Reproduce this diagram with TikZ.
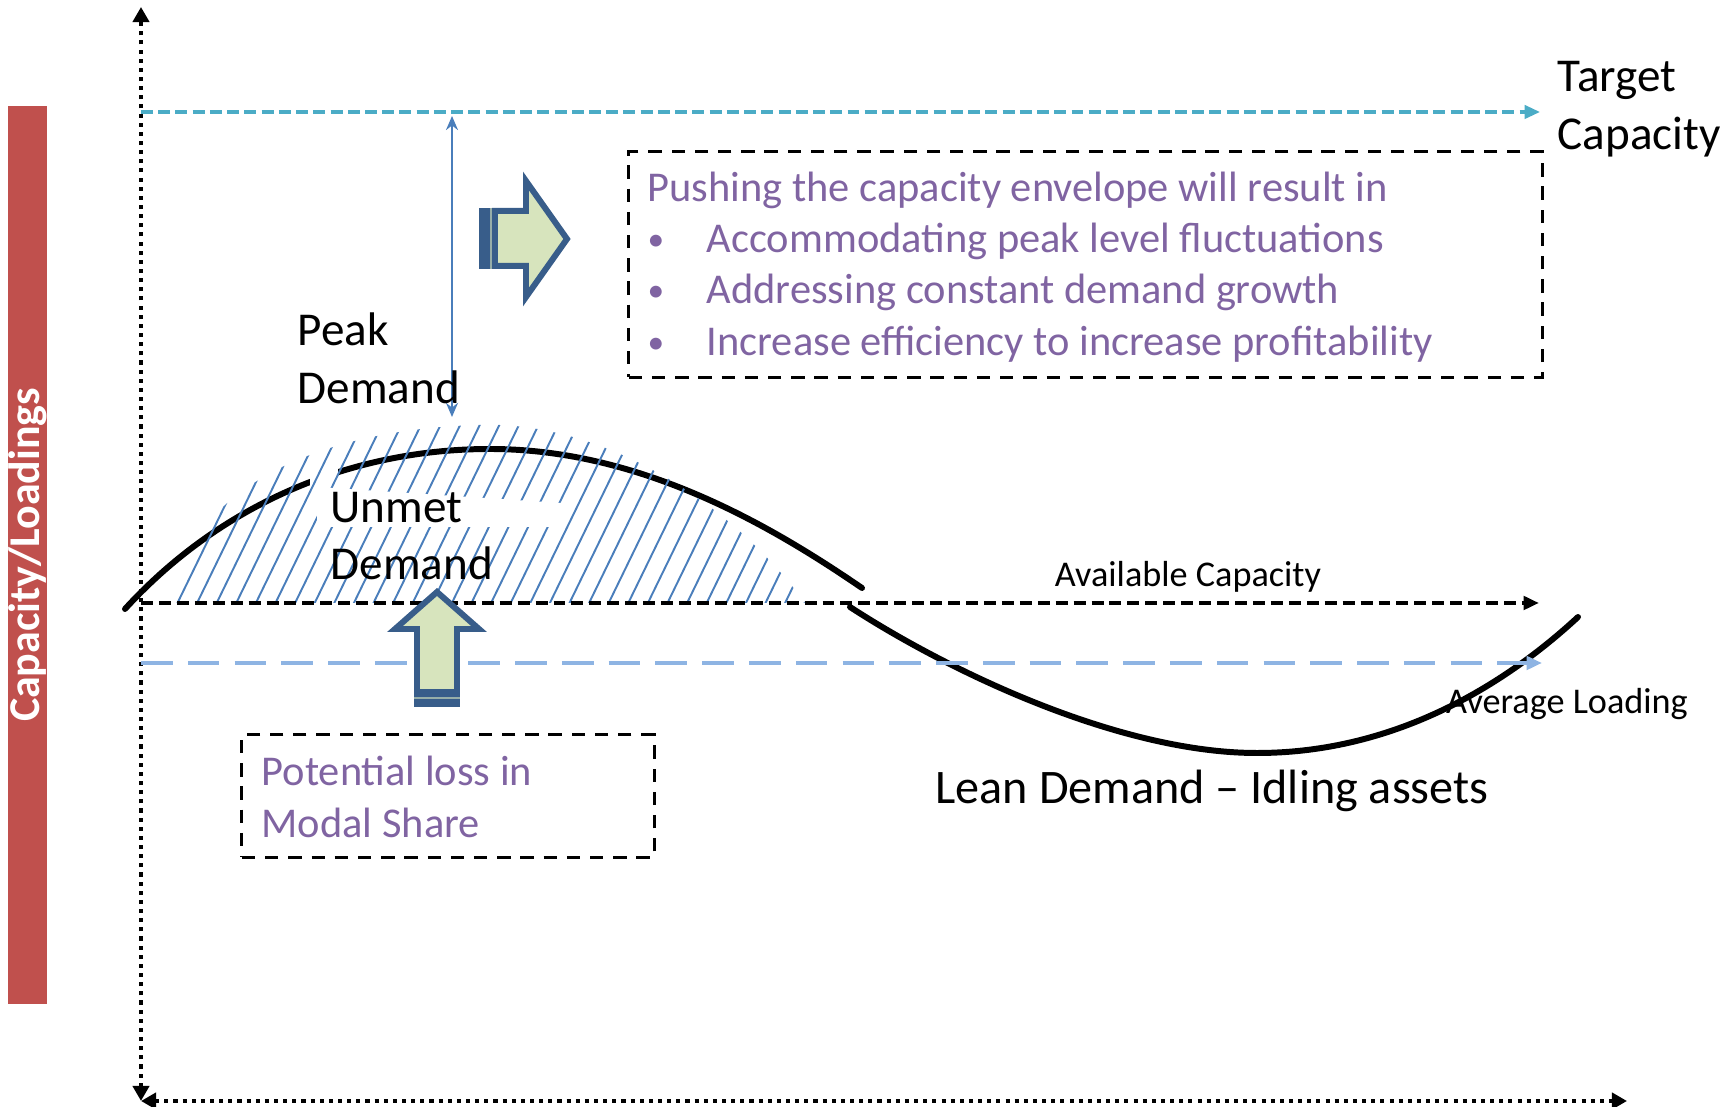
\documentclass[tikz,border=0pt]{standalone}
\usepackage{fontspec}
\setmainfont{Carlito}
\usepackage{xcolor}
\usetikzlibrary{arrows.meta,positioning}

\definecolor{capred}{HTML}{C0504D}
\definecolor{targetblue}{HTML}{4BACC6}
\definecolor{loadblue}{HTML}{8EB4E3}
\definecolor{linkblue}{HTML}{4A7EBB}
\definecolor{notepurple}{HTML}{8064A2}
\definecolor{blockfill}{HTML}{D7E4BD}
\definecolor{blockline}{HTML}{385D8A}

\newcommand{\notebullet}{\makebox[0.59cm][l]{\raisebox{0.6pt}{\fontsize{9.5}{9.5}\selectfont\textbullet}}}

\tikzset{
	axis/.style={line width=1.15pt, dash pattern=on 1.15pt off 1.45pt,
			{Triangle[length=4.3pt,width=4.6pt]}-{Triangle[length=4.3pt,width=4.6pt]}},
	level/.style={line width=#1, -{Triangle[length=4.4pt,width=3.8pt]}},
	curve/.style={line width=1.7pt, line cap=round},
	hatch/.style={linkblue, line width=0.55pt},
	notebox/.style={draw, line width=0.85pt, dash pattern=on 3.8pt off 2.8pt, inner sep=0pt},
	block/.style={fill=blockfill, draw=blockline, line width=1.7pt, line join=miter},
	bigtext/.style={font=\fontsize{13.4}{16.4}\selectfont, align=left, inner sep=0pt},
	notetext/.style={font=\fontsize{12.07}{14.6}\selectfont, text=notepurple, align=left, inner sep=0pt},
	smalltext/.style={font=\fontsize{10.3}{12.4}\selectfont, inner sep=0pt}
}

\begin{document}
\begin{tikzpicture}[x=0.01cm, y=-0.01cm]
	\useasboundingbox (0,0) rectangle (1736,1107);

	% side bar
	\node[fill=capred, text=white, rotate=90, minimum width=8.98cm, minimum height=0.39cm,
		inner sep=0pt, font=\bfseries\fontsize{12.5}{15}\selectfont] (capbar) at (27.5,555) {Capacity/Loadings};

	% axes
	\coordinate (origin) at (141,1101);
	\coordinate (ytop) at (141,7);
	\coordinate (xend) at (1627,1101);
	\draw[axis] (origin) -- (ytop);
	\draw[axis] (origin) -- (xend);

	% demand curve, peak part and lean part
	\draw[curve] (125,609) .. controls (220,505) and (350,449) .. (490,449)
		.. controls (640,449) and (770,525) .. (862,588);
	\fill[white] (310,450) rectangle (338,500);
	\draw[curve] (850,607) .. controls (950,672) and (1120,753) .. (1257,753)
		.. controls (1400,753) and (1510,680) .. (1578,617);

	% unmet demand hatching
	\begin{scope}
		\clip (172,603) .. controls (185,500) and (300,430) .. (478,425)
			.. controls (600,420) and (730,500) .. (805,603) -- cycle;
		\foreach \k in {-6,...,32}
			\draw[hatch] ({177+19.6*\k},604) -- ++(112,-230);
	\end{scope}
	\fill[white] (317,487) -- (561,503) -- (561,527) -- (317,527) -- cycle;

	% capacity and loading levels
	\coordinate (targetstart) at (141,112);
	\coordinate (targetend) at (1540,112);
	\coordinate (availstart) at (141,603);
	\coordinate (availend) at (1539,603);
	\coordinate (loadstart) at (141,663);
	\coordinate (loadend) at (1542,663);
	\draw[level=0.95pt, targetblue, dash pattern=on 3.4pt off 1.5pt] (targetstart) -- (targetend);
	\draw[level=1.4pt, dash pattern=on 3.4pt off 1.7pt] (availstart) -- (availend);
	\draw[level=1.2pt, loadblue, dash pattern=on 9pt off 4.3pt] (loadstart) -- (loadend);

	% gap between available and target capacity
	\coordinate (peaktop) at (452,116);
	\coordinate (peakbottom) at (452,417);
	\draw[linkblue, line width=0.6pt, {Stealth[length=4pt,width=3.4pt]}-{Stealth[length=4pt,width=3.4pt]}] (peaktop) -- (peakbottom);

	% block arrows
	\draw[block] (495,211) -- (526,211) -- (526,181) -- (567,239) -- (526,297) -- (526,266) -- (495,266) -- cycle;
	\fill[blockline] (479,208) rectangle (498,269);
	\draw[blockfill!60!blockline, line width=0.3pt] (491,208) -- (491,269);

	\draw[block] (417,692) -- (417,629) -- (395,629) -- (437,592) -- (479,629) -- (457,629) -- (457,692) -- cycle;
	\fill[blockline] (414,689) rectangle (460,707);
	\draw[blockfill!60!blockline, line width=0.3pt] (414,698) -- (460,698);

	% notes
	\node[notebox, minimum width=9.13cm, minimum height=2.25cm] (pushbox) at (1085.5,264.5) {};
	\node[notetext, anchor=west] (pushtext) at (647,267) {Pushing the capacity envelope will result in\\
		\notebullet Accommodating peak level fluctuations\\
		\notebullet Addressing constant demand growth\\
		\notebullet Increase efficiency to increase profitability};

	\node[notebox, minimum width=4.12cm, minimum height=1.22cm] (lossbox) at (448,796) {};
	\node[notetext, anchor=west] (losstext) at (261,797) {Potential loss in\\Modal Share};

	% labels
	\node[bigtext, right=0.17cm of targetend, yshift=0.03cm] (targetlabel) {Target\\Capacity};
	\node[bigtext, anchor=west] (peaklabel) at (297,358) {Peak\\Demand};
	\node[bigtext, anchor=west] (unmetlabel) at (330,536) {Unmet\\Demand};
	\node[bigtext, font=\fontsize{13.7}{16.4}\selectfont] (leanlabel) at (1212,791) {Lean Demand – Idling assets};
	\node[smalltext] (availlabel) at (1188,577) {Available Capacity};
	\node[smalltext] (loadlabel) at (1567,704) {Average Loading};
\end{tikzpicture}
\end{document}
